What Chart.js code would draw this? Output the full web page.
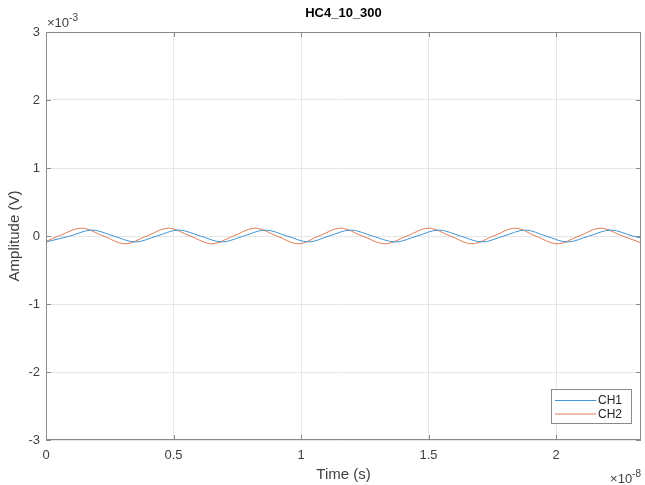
<!DOCTYPE html>
<html>
<head>
<meta charset="utf-8">
<script src="https://cdn.jsdelivr.net/npm/chart.js@4/dist/chart.umd.min.js"></script>
<style>
  html, body { margin: 0; padding: 0; background: #ffffff; }
  #wrap { width: 645px; height: 485px; }
</style>
</head>
<body>
<div id="wrap"><canvas id="c" width="645" height="485"></canvas></div>
<script>
// Scope capture HC4_10_300: two channels, time in units of 1e-8 s, amplitude in units of 1e-3 V
const chartTitle = 'HC4_10_300';
const xAxisLabel = 'Time (s)';
const yAxisLabel = 'Amplitude (V)';
const xExponent = '-8';
const yExponent = '-3';
const xTicks = [0, 0.5, 1, 1.5, 2];
const yTicks = [-3, -2, -1, 0, 1, 2, 3];
const xRange = [0, 2.333];
const yRange = [-3, 3];

const seriesNames = ['CH1', 'CH2'];

const ch1Time = [0, 0.095, 0.18, 0.265, 0.35, 0.435, 0.52, 0.605, 0.69, 0.775, 0.86, 0.945, 1.03, 1.11,
                 1.195, 1.28, 1.37, 1.455, 1.54, 1.625, 1.71, 1.795, 1.88, 1.96, 2.045, 2.13, 2.215, 2.30, 2.333];
const ch1Amp  = [-0.088, 0, 0.088, 0, -0.088, 0, 0.088, 0, -0.088, 0, 0.088, 0, -0.088, 0,
                 0.088, 0, -0.088, 0, 0.088, 0, -0.088, 0, 0.088, 0, -0.088, 0, 0.088, 0, -0.03];

const ch2Time = [0, 0.05, 0.14, 0.225, 0.31, 0.395, 0.48, 0.565, 0.65, 0.735, 0.82, 0.905, 0.99, 1.07,
                 1.155, 1.24, 1.33, 1.415, 1.50, 1.585, 1.67, 1.755, 1.84, 1.92, 2.005, 2.09, 2.175, 2.26, 2.333];
const ch2Amp  = [-0.08, 0, 0.115, 0, -0.115, 0, 0.115, 0, -0.115, 0, 0.115, 0, -0.115, 0,
                 0.115, 0, -0.115, 0, 0.115, 0, -0.115, 0, 0.115, 0, -0.115, 0, 0.115, 0, -0.1];

const colors = ['#4196d3', '#e07c56'];
const fontFamily = '"Liberation Sans", Arial, Helvetica, sans-serif';
const textColor = '#404040';
const frameColor = '#8a8a8a';

function toPoints(ts, vs) { return ts.map((t, i) => ({ x: t, y: vs[i] })); }

function fmt(v) { return String(Math.round(v * 1000) / 1000); }

// Title, axes box with inward ticks, exponent markers and the legend
const framePlugin = {
  id: 'frame',
  afterDraw(chart) {
    const { ctx, chartArea: a, scales } = chart;
    ctx.save();

    // title centred over the plot area
    ctx.fillStyle = '#000000';
    ctx.font = 'bold 13px ' + fontFamily;
    ctx.textAlign = 'center';
    ctx.textBaseline = 'middle';
    ctx.fillText(chartTitle, (a.left + a.right) / 2, 13);

    ctx.strokeStyle = frameColor;
    ctx.lineWidth = 1;
    ctx.strokeRect(Math.round(a.left) + 0.5, Math.round(a.top) + 0.5,
                   Math.round(a.right - a.left) - 1, Math.round(a.bottom - a.top) - 1);
    const tl = 5;
    ctx.beginPath();
    xTicks.forEach(v => {
      const x = Math.round(scales.x.getPixelForValue(v)) + 0.5;
      ctx.moveTo(x, a.bottom); ctx.lineTo(x, a.bottom - tl);
      ctx.moveTo(x, a.top); ctx.lineTo(x, a.top + tl);
    });
    yTicks.forEach(v => {
      const y = Math.round(scales.y.getPixelForValue(v)) + 0.5;
      ctx.moveTo(a.left, y); ctx.lineTo(a.left + tl, y);
      ctx.moveTo(a.right, y); ctx.lineTo(a.right - tl, y);
    });
    ctx.stroke();

    // exponent markers
    ctx.fillStyle = textColor;
    ctx.textAlign = 'left';
    ctx.font = '13px ' + fontFamily;
    let bx = a.left + 1, by = a.top - 9;
    ctx.fillText('\u00d710', bx, by);
    const w = ctx.measureText('\u00d710').width;
    ctx.font = '10px ' + fontFamily;
    ctx.fillText(yExponent, bx + w, by - 5);

    ctx.font = '10px ' + fontFamily;
    const w3 = ctx.measureText(xExponent).width;
    ctx.font = '13px ' + fontFamily;
    bx = a.right - w - w3; by = a.bottom + 39;
    ctx.fillText('\u00d710', bx, by);
    ctx.font = '10px ' + fontFamily;
    ctx.fillText(xExponent, bx + w, by - 5);

    // legend
    const lx = 551, ly = 389, lw = 80, lh = 34;
    ctx.fillStyle = '#ffffff';
    ctx.fillRect(lx, ly, lw, lh);
    ctx.strokeStyle = frameColor;
    ctx.strokeRect(lx + 0.5, ly + 0.5, lw, lh);
    ctx.font = '12px ' + fontFamily;
    seriesNames.forEach((name, i) => {
      const yy = ly + 11 + i * 13.5;
      ctx.strokeStyle = colors[i];
      ctx.lineWidth = 1;
      ctx.beginPath();
      ctx.moveTo(lx + 4, yy + 0.5); ctx.lineTo(lx + 45, yy + 0.5);
      ctx.stroke();
      ctx.fillStyle = '#262626';
      ctx.fillText(name, lx + 47, yy + 1);
    });
    ctx.restore();
  }
};

new Chart(document.getElementById('c'), {
  type: 'line',
  data: {
    datasets: [
      { label: seriesNames[0], data: toPoints(ch1Time, ch1Amp), borderColor: colors[0],
        borderWidth: 1, pointRadius: 0, fill: false, cubicInterpolationMode: 'monotone' },
      { label: seriesNames[1], data: toPoints(ch2Time, ch2Amp), borderColor: colors[1],
        borderWidth: 1, pointRadius: 0, fill: false, cubicInterpolationMode: 'monotone' }
    ]
  },
  options: {
    responsive: false,
    animation: false,
    events: [],
    layout: { padding: { left: 0, right: 4, top: 32, bottom: 0 } },
    plugins: {
      legend: { display: false },
      tooltip: { enabled: false },
      title: { display: false }
    },
    scales: {
      x: {
        type: 'linear', min: xRange[0], max: xRange[1],
        afterBuildTicks: s => { s.ticks = xTicks.map(v => ({ value: v })); },
        afterFit: s => { s.height = 45; },
        grid: { color: '#e6e6e6', drawTicks: false },
        border: { display: false },
        ticks: { color: textColor, padding: 8, maxRotation: 0, autoSkip: false,
                 font: { family: fontFamily, size: 13 }, callback: v => fmt(v) },
        title: { display: true, text: xAxisLabel, color: textColor,
                 font: { family: fontFamily, size: 15 }, padding: { top: 0, bottom: 1 } }
      },
      y: {
        type: 'linear', min: yRange[0], max: yRange[1],
        afterBuildTicks: s => { s.ticks = yTicks.map(v => ({ value: v })); },
        afterFit: s => { s.width = 46; },
        grid: { color: '#e6e6e6', drawTicks: false },
        border: { display: false },
        ticks: { color: textColor, padding: 6, autoSkip: false,
                 font: { family: fontFamily, size: 13 }, callback: v => fmt(v) },
        title: { display: true, text: yAxisLabel, color: textColor,
                 font: { family: fontFamily, size: 15 }, padding: { top: 6, bottom: 0 } }
      }
    }
  },
  plugins: [framePlugin]
});
</script>
</body>
</html>
